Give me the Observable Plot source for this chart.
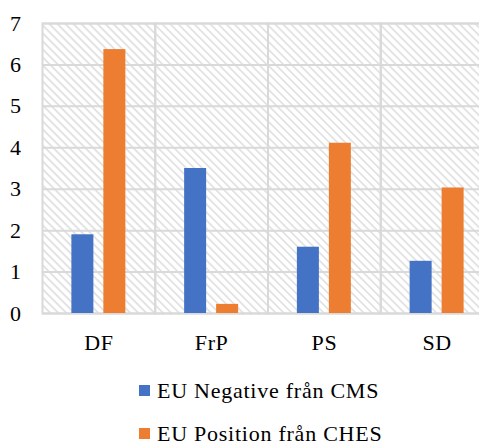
<!DOCTYPE html>
<html><head><meta charset="utf-8">
<script src="https://cdn.jsdelivr.net/npm/d3@7"></script>
<script src="https://cdn.jsdelivr.net/npm/@observablehq/plot@0.6"></script>
<style>
body{margin:0;background:#fff;font-family:"Liberation Serif","Times New Roman",serif;}
#chart{width:479px;height:444px;overflow:hidden;position:relative}
.legend{padding-left:139px;padding-top:9px;font-size:22px;letter-spacing:0.75px;color:#000}
.item{display:flex;align-items:center;height:43px;white-space:nowrap}
.item span.t{line-height:18px}
.sw{width:11px;height:11px;margin-right:7px;flex:none}
</style></head><body><div id="chart"></div>
<script>
const categories = ["DF","FrP","PS","SD"];
const seriesNames = ["EU Negative från CMS","EU Position från CHES"];
const cmsValues = [1.9,3.5,1.6,1.26];
const chesValues = [6.37,0.22,4.11,3.03];
const colors = ["#4472C4","#ED7D31"];
const yTicks = [0,1,2,3,4,5,6,7];

const data = [];
categories.forEach((c,i)=>{
  data.push({cat:c,series:seriesNames[0],value:cmsValues[i]});
  data.push({cat:c,series:seriesNames[1],value:chesValues[i]});
});

const plot = Plot.plot({
  width:479, height:360, marginTop:23, marginBottom:47, marginLeft:42, marginRight:0,
  style:{fontFamily:'"Liberation Serif","Times New Roman",serif', fontSize:"22px", letterSpacing:"0.6px", color:"#000", background:"transparent", overflow:"hidden"},
  fx:{domain:categories, range:[42,493], padding:0, round:false, axis:"bottom", label:null, tickSize:0, tickPadding:21},
  x:{domain:seriesNames, paddingInner:0.3125, paddingOuter:0.919, round:false, axis:null},
  y:{domain:[0,7], ticks:yTicks, tickFormat:"d", tickSize:0, tickPadding:21, label:null},
  color:{domain:seriesNames, range:colors},
  marks:[
    Plot.frame({fill:"url(#hatch)", stroke:null}),
    Plot.gridY(yTicks, {stroke:"#d9d9d9", strokeOpacity:1, strokeWidth:2}),
    Plot.frame({stroke:"#d9d9d9", strokeWidth:2}),
    Plot.barY(data, {fx:"cat", x:"series", y:"value", fill:"series"})
  ]
});
d3.select(plot).insert("defs", ":first-child").html(
  '<pattern id="hatch" patternUnits="userSpaceOnUse" width="5.657" height="10" patternTransform="rotate(-45)">' +
  '<line x1="1" y1="0" x2="1" y2="10" stroke="#dedede" stroke-width="1.6"/></pattern>');
const chart = document.getElementById("chart");
chart.appendChild(plot);

const legend = document.createElement("div");
legend.className = "legend";
seriesNames.forEach((s,i)=>{
  const it = document.createElement("div"); it.className="item";
  const sw = document.createElement("span"); sw.className="sw"; sw.style.background = colors[i];
  const t = document.createElement("span"); t.className="t"; t.textContent = s;
  it.appendChild(sw); it.appendChild(t); legend.appendChild(it);
});
chart.appendChild(legend);
</script></body></html>
